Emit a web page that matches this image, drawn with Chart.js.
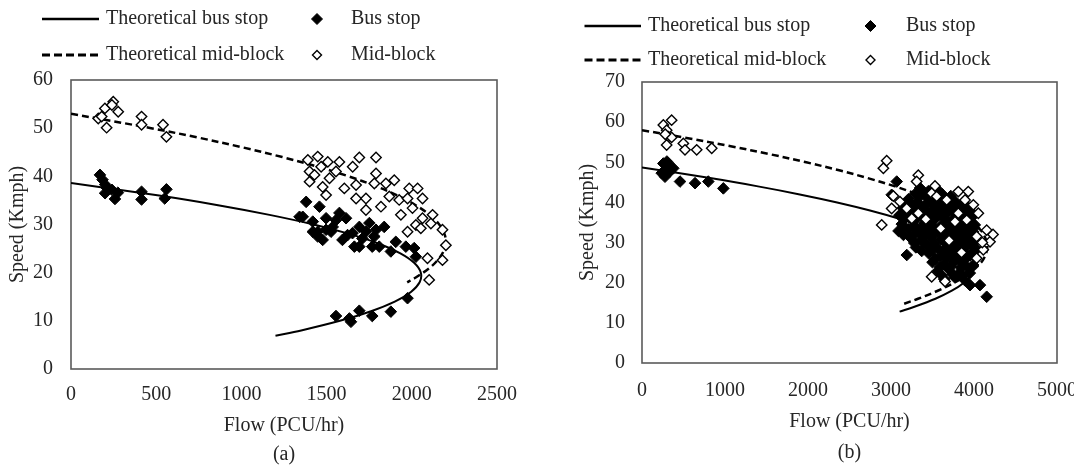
<!DOCTYPE html>
<html><head><meta charset="utf-8">
<script src="https://cdn.jsdelivr.net/npm/chart.js@4.4.1/dist/chart.umd.min.js"></script>
<style>
html,body{margin:0;padding:0;background:#fff;overflow:hidden}
#wrap{position:relative;width:1074px;height:466px}
canvas{position:absolute;top:0}
</style></head><body>
<div id="wrap">
<canvas id="ca" width="537" height="466" style="left:0;width:537px;height:466px"></canvas>
<canvas id="cb" width="537" height="466" style="left:537px;width:537px;height:466px"></canvas>
</div>
<script>
// ---------------- DATA ----------------
// Panel (a)
const aTheoBusFlow  = [0, 517, 863, 1165, 1424, 1638, 1808, 1933, 2015, 2053, 2046, 1995, 1900, 1761, 1578, 1351, 1200];
const aTheoBusSpeed = [38.6, 36, 34, 32, 30, 28, 26, 24, 22, 20, 18, 16, 14, 12, 10, 8, 6.9];
const aTheoMidFlow  = [0, 470, 752, 1008, 1240, 1447, 1629, 1785, 1917, 2023, 2105, 2161, 2192, 2200, 2193, 2161, 2105, 2023, 1973];
const aTheoMidSpeed = [53, 50, 48, 46, 44, 42, 40, 38, 36, 34, 32, 30, 28, 26.5, 25, 23, 21, 19, 18];
const aBusFlow  = [170, 185, 200, 210, 200, 240, 258, 275, 414, 414, 560, 550,
  1380, 1458, 1360, 1419, 1448, 1448, 1497, 1526, 1555, 1614, 1623, 1663, 1692, 1710, 1751, 1780, 1838, 1768, 1692, 1809, 1877, 1906, 1965, 2014, 2024, 1575, 1419, 1477, 1536, 1593, 1652, 1731, 1790, 1341, 1497,
  1555, 1634, 1643, 1692, 1768, 1877, 1975];
const aBusSpeed = [40.3, 39.3, 38.3, 37.6, 36.5, 37.2, 35.3, 36.6, 36.8, 35.2, 37.3, 35.4,
  34.7, 33.7, 31.6, 30.6, 28.5, 27.5, 31.3, 28.5, 30.9, 31.3, 27.8, 25.4, 29.5, 27.1, 30.3, 27.5, 29.5, 25.4, 25.4, 25.4, 24.4, 26.4, 25.4, 25.1, 23.3, 32.4, 28.5, 26.8, 29.5, 26.8, 28.2, 28.5, 28.9, 31.6, 28.9,
  11.0, 10.5, 9.8, 12.1, 11.0, 11.9, 14.7];
const aMidFlow  = [199, 248, 277, 160, 180, 209, 240, 414, 414, 540, 560,
  1390, 1448, 1400, 1468, 1507, 1575, 1429, 1400, 1477, 1497, 1517, 1555, 1604, 1653, 1692, 1790, 1673, 1673, 1731, 1731, 1790, 1780, 1819, 1848, 1897, 1868, 1926, 1936, 1985, 2034, 1975, 2004, 2063, 2063, 2122, 2112, 2024, 1975, 2053, 2180, 2200, 2180, 2092, 2102];
const aMidSpeed = [54.1, 55.5, 53.4, 52.0, 52.4, 50.1, 54.8, 52.4, 50.7, 50.7, 48.2,
  43.4, 44.1, 41.0, 42.0, 43.0, 43.0, 40.3, 38.9, 37.8, 36.1, 39.6, 41.0, 37.5, 42.0, 43.9, 43.9, 38.2, 35.4, 35.4, 33.0, 40.6, 38.5, 33.7, 38.5, 39.2, 35.8, 35.1, 32.0, 37.5, 37.5, 35.4, 33.4, 35.4, 31.3, 32.0, 30.2, 29.9, 28.5, 29.2, 28.9, 25.7, 22.6, 23.0, 18.5];

// Panel (b)
const bTheoBusFlow  = [0, 839, 1397, 1901, 2351, 2747, 3089, 3376, 3610, 3790, 3915, 3987, 4006, 3968, 3878, 3733, 3535, 3282, 3104];
const bTheoBusSpeed = [48.7, 46, 44, 42, 40, 38, 36, 34, 32, 30, 28, 26, 24.4, 22, 20, 18, 16, 14, 12.8];
const bTheoMidFlow  = [0, 554, 1069, 1544, 1979, 2375, 2731, 3048, 3325, 3563, 3761, 3919, 4038, 4117, 4161, 4117, 4038, 3919, 3761, 3563, 3325, 3150];
const bTheoMidSpeed = [58, 56, 54, 52, 50, 48, 46, 44, 42, 40, 38, 36, 34, 32, 29, 26, 24, 22, 20, 18, 16, 14.7];
const bBusFlow  = [257, 317, 297, 237, 337, 277, 377, 300, 270, 458, 639, 799, 980,
  3069, 3008, 3952, 4072, 4153,
  3350, 3450, 3560,
  3210, 3340, 3460, 3580, 3690, 3780,
  3140, 3260, 3390, 3510, 3620, 3730, 3830, 3920,
  3100, 3230, 3370, 3470, 3580, 3690, 3790, 3880, 3970,
  3130, 3270, 3400, 3510, 3620, 3730, 3840, 3930, 4010,
  3090, 3210, 3330, 3450, 3560, 3670, 3770, 3880, 3990,
  3240, 3360, 3480, 3600, 3710, 3810, 3910, 4020,
  3300, 3430, 3560, 3680, 3790, 3900, 4030,
  3190, 3460, 3600, 3720, 3830, 3950,
  3500, 3640, 3760, 3870, 3990,
  3560, 3700, 3830, 3950,
  3640, 3770, 3890,
  3290, 3400, 3510, 3620, 3720,
  3190, 3320, 3440, 3560, 3670, 3770, 3870,
  3170, 3300, 3420, 3540, 3650, 3750, 3860, 3950,
  3160, 3310, 3430, 3540, 3650, 3760, 3860, 3960,
  3150, 3280, 3390, 3500, 3610, 3720, 3820, 3920, 4000,
  3150, 3280, 3400, 3520, 3630, 3740, 3850, 3950,
  3280, 3400, 3520, 3640, 3750, 3860, 3960,
  3370, 3500, 3630, 3750, 3860, 3980,
  3540, 3670, 3790, 3900,
  3590, 3720, 3840, 3930,
  3610, 3740, 3860];
const bBusSpeed = [49.7, 49.7, 48.5, 47.3, 47.7, 46.4, 48.5, 50.2, 48.0, 45.2, 44.8, 45.2, 43.5,
  45.2, 41.9, 19.4, 19.4, 16.5,
  43.6, 42.8, 43.2,
  40.8, 41.4, 40.6, 41.2, 40.7, 40.1,
  38.6, 39.3, 38.8, 39.5, 38.7, 39.1, 38.4, 38.9,
  36.8, 37.2, 36.5, 37.4, 36.9, 37.6, 36.6, 37.1, 36.3,
  34.6, 35.3, 34.8, 35.5, 34.5, 35.1, 34.7, 35.2, 34.4,
  32.9, 33.3, 32.6, 33.4, 32.8, 33.2, 32.5, 33.1, 32.7,
  31.1, 30.6, 31.3, 30.8, 31.2, 30.5, 31.0, 30.4,
  28.8, 29.3, 28.6, 29.1, 28.5, 29.0, 28.3,
  26.9, 27.2, 26.6, 27.1, 26.5, 26.8,
  25.1, 24.6, 25.3, 24.8, 24.4,
  22.9, 23.3, 22.6, 22.4,
  20.9, 21.3, 20.6,
  42.1, 41.9, 42.2, 42.0, 41.6,
  39.9, 40.1, 39.8, 40.2, 39.9, 39.6, 39.8,
  37.9, 38.1, 37.8, 38.2, 37.9, 38.0, 37.7, 38.0,
  35.9, 36.1, 35.8, 36.2, 35.9, 36.0, 35.8, 36.1,
  33.9, 34.1, 33.8, 34.2, 33.9, 34.0, 33.8, 34.1, 33.7,
  31.9, 32.1, 31.8, 32.2, 31.9, 32.0, 31.8, 32.1,
  29.9, 30.1, 29.8, 30.2, 29.9, 30.0, 29.7,
  27.9, 28.1, 27.8, 28.2, 27.9, 27.6,
  25.9, 26.1, 25.8, 26.0,
  23.9, 24.1, 23.8, 23.6,
  21.9, 22.1, 21.7];
const bMidFlow  = [357, 257, 297, 317, 297, 357, 498, 518, 659, 840, 280,
  2948, 2908, 2888, 3329, 3309, 3530, 3490, 3028, 3008, 3108, 3811, 3931, 3892, 3992, 4052, 3811, 3912, 4153, 4193, 4112, 4032, 3329, 3189, 3771, 4032, 3490, 3651, 3550, 3671, 4229, 4100, 3700, 3600, 3850, 3420, 3250];
const bMidSpeed = [60.5, 59.3, 58.0, 56.4, 54.3, 56.2, 54.7, 53.1, 53.1, 53.5, 57.0,
  50.4, 48.5, 34.4, 46.8, 45.2, 44.1, 42.3, 41.6, 38.5, 40.2, 42.7, 42.7, 40.6, 39.4, 37.3, 37.3, 35.6, 33.1, 30.2, 28.2, 26.1, 37.3, 38.5, 35.2, 31.5, 21.5, 20.3, 41.5, 40.6, 32.0, 30.0, 30.5, 33.5, 27.5, 35.8, 36.0];

const labels = ['Theoretical bus stop', 'Theoretical mid-block', 'Bus stop', 'Mid-block'];
const aXTicks = {min: 0, max: 2500, step: 500};
const aYTicks = {min: 0, max: 60, step: 10};
const bXTicks = {min: 0, max: 5000, step: 1000};
const bYTicks = {min: 0, max: 70, step: 10};

// ---------------- STYLE / BUILD ----------------
const FONT = "'Liberation Serif', 'Times New Roman', serif";
const TEXT = '#262626';
const FS = 20;

function pts(f, s) { return f.map((v, i) => ({x: v, y: s[i]})); }

function datasets(tbF, tbS, tmF, tmS, bF, bS, mF, mS) {
  return [
    {label: labels[0], data: pts(tbF, tbS), showLine: true, borderColor: '#000', borderWidth: 2,
      pointRadius: 0, tension: 0.35, order: 3},
    {label: labels[1], data: pts(tmF, tmS), showLine: true, borderColor: '#000', borderWidth: 2.5,
      borderDash: [7, 4], pointRadius: 0, tension: 0.35, order: 2},
    {label: labels[2], data: pts(bF, bS), showLine: false, pointStyle: 'rectRot', pointRadius: 5.8,
      backgroundColor: '#000', borderColor: '#000', borderWidth: 1, order: 1},
    {label: labels[3], data: pts(mF, mS), showLine: false, pointStyle: 'rectRot', pointRadius: 5.2,
      backgroundColor: '#fff', borderColor: '#000', borderWidth: 1.4, order: 0}
  ];
}

const framePlugin = {
  id: 'frame',
  beforeDatasetsDraw(chart) {
    const a = chart.chartArea, ctx = chart.ctx;
    ctx.save();
    ctx.strokeStyle = '#5a5a5a';
    ctx.lineWidth = 1.6;
    ctx.strokeRect(a.left, a.top, a.right - a.left, a.bottom - a.top);
    ctx.restore();
  }
};

const legendPlugin = {
  id: 'gridLegend',
  afterDraw(chart, args, o) {
    const ctx = chart.ctx, ds = chart.data.datasets;
    ctx.save();
    ctx.font = FS + 'px ' + FONT;
    ctx.textBaseline = 'middle';
    ctx.textAlign = 'left';
    [[0, o.row1], [1, o.row2]].forEach(([i, y]) => {
      const d = ds[i];
      ctx.beginPath();
      ctx.setLineDash(d.borderDash ? [8, 4] : []);
      ctx.lineWidth = d.borderDash ? 3 : 2.5;
      ctx.strokeStyle = '#000';
      ctx.moveTo(o.lineX0, y); ctx.lineTo(o.lineX1, y); ctx.stroke();
      ctx.setLineDash([]);
      ctx.fillStyle = TEXT;
      ctx.fillText(d.label, o.lineText, y);
    });
    [[2, o.row1, 5.5], [3, o.row2, 4.5]].forEach(([i, y, r]) => {
      const d = ds[i];
      ctx.fillStyle = d.backgroundColor;
      ctx.strokeStyle = d.borderColor;
      ctx.lineWidth = d.borderWidth;
      Chart.helpers.drawPoint(ctx, {pointStyle: d.pointStyle, radius: r, borderWidth: d.borderWidth, rotation: 0}, o.markerX, y);
      ctx.fillStyle = TEXT;
      ctx.fillText(d.label, o.markerText, y);
    });
    ctx.restore();
  }
};

const plainNum = (v) => String(v);

function makeChart(id, ds, xt, yt, cfg) {
  return new Chart(document.getElementById(id), {
    type: 'scatter',
    data: {datasets: ds},
    plugins: [framePlugin, legendPlugin],
    options: {
      responsive: false, animation: false, devicePixelRatio: 1,
      layout: {padding: {left: cfg.padLeft, top: cfg.top, right: cfg.padRight, bottom: 0}},
      plugins: {legend: {display: false}, tooltip: {enabled: false}, gridLegend: cfg.legend},
      scales: {
        x: {
          type: 'linear', min: xt.min, max: xt.max,
          ticks: {stepSize: xt.step, callback: plainNum, color: TEXT, font: {family: FONT, size: FS}, padding: cfg.xPad, maxRotation: 0, autoSkip: false},
          grid: {display: false, drawTicks: false}, border: {display: false},
          title: {display: true, text: ['Flow (PCU/hr)', cfg.caption], color: TEXT,
            font: {family: FONT, size: FS, lineHeight: cfg.titleLH + 'px'}, padding: {top: 0, bottom: cfg.titleBottom}},
          afterFit(s) { s.height = cfg.xHeight; s.paddingLeft = 0; s.paddingRight = 0; }
        },
        y: {
          type: 'linear', min: yt.min, max: yt.max,
          ticks: {stepSize: yt.step, callback: plainNum, color: TEXT, font: {family: FONT, size: FS}, padding: cfg.yPad},
          grid: {display: false, drawTicks: false}, border: {display: false},
          title: {display: true, text: 'Speed (Kmph)', color: TEXT, font: {family: FONT, size: FS}, padding: {top: 6, bottom: 0}},
          afterFit(s) { s.width = cfg.yWidth; s.paddingTop = 0; s.paddingBottom = 0; }
        }
      }
    }
  });
}

makeChart('ca',
  datasets(aTheoBusFlow, aTheoBusSpeed, aTheoMidFlow, aTheoMidSpeed, aBusFlow, aBusSpeed, aMidFlow, aMidSpeed),
  aXTicks, aYTicks,
  {padLeft: 0, padRight: 40, top: 80, yWidth: 71, xHeight: 97, xPad: 14, yPad: 18, caption: '(a)', titleLH: 29, titleBottom: -3.5,
   legend: {row1: 19, row2: 55, lineX0: 42, lineX1: 99, lineText: 106, markerX: 317, markerText: 351}});

makeChart('cb',
  datasets(bTheoBusFlow, bTheoBusSpeed, bTheoMidFlow, bTheoMidSpeed, bBusFlow, bBusSpeed, bMidFlow, bMidSpeed),
  bXTicks, bYTicks,
  {padLeft: 33, padRight: 17, top: 82, yWidth: 72, xHeight: 103, xPad: 16, yPad: 17, caption: '(b)', titleLH: 31, titleBottom: -2.5,
   legend: {row1: 26, row2: 60, lineX0: 47.5, lineX1: 104, lineText: 111, markerX: 333.5, markerText: 369}});
</script>
</body></html>
